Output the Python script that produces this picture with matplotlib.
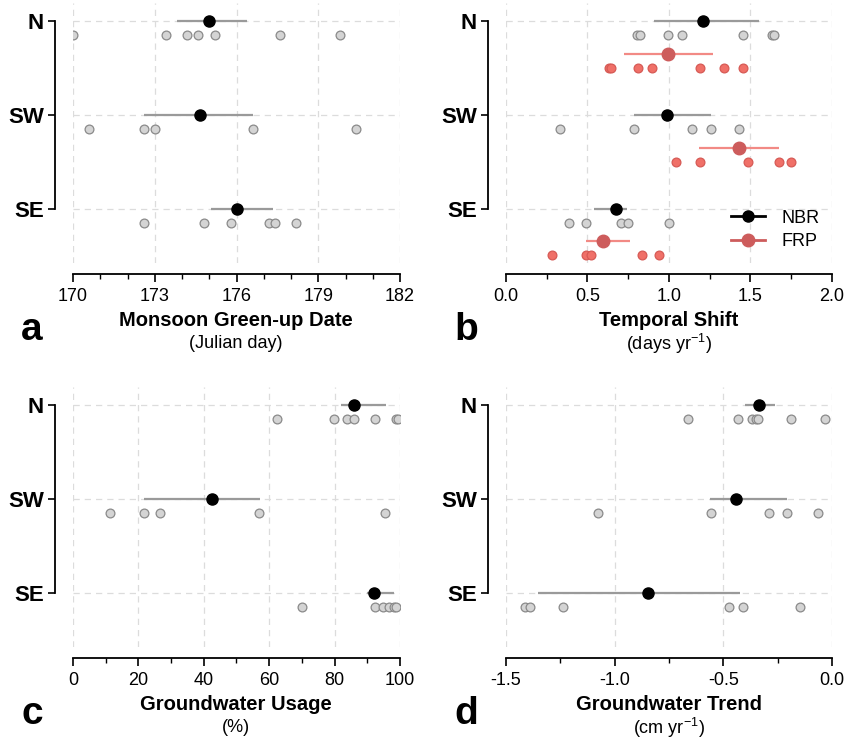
import matplotlib
matplotlib.use("Agg")
import matplotlib.pyplot as plt
from matplotlib.lines import Line2D
from matplotlib.ticker import FixedLocator, FormatStrFormatter

plt.rcParams['font.family'] = ['Liberation Sans', 'DejaVu Sans']
plt.rcParams['mathtext.default'] = 'regular'

regions = ["N", "SW", "SE"]

# Panel a: Monsoon green-up date
a_ticks = [170, 173, 176, 179, 182]
a_minor = [171, 172, 174, 175, 177, 178, 180, 181]
a_mean = [175.0, 174.65, 176.0]
a_lo = [173.8, 172.6, 175.05]
a_hi = [176.4, 176.6, 177.35]
a_pts = [
    [170.0, 173.4, 174.2, 174.6, 175.2, 177.6, 179.8],
    [170.6, 172.6, 173.0, 176.6, 180.4],
    [172.6, 174.8, 175.8, 177.2, 177.4, 178.2],
]

# Panel b: temporal shift (NBR and FRP)
b_ticks = [0.0, 0.5, 1.0, 1.5, 2.0]
b_minor = [0.25, 0.75, 1.25, 1.75]
b_nbr_mean = [1.21, 0.99, 0.675]
b_nbr_lo = [0.905, 0.785, 0.54]
b_nbr_hi = [1.55, 1.26, 0.74]
b_nbr_pts = [
    [0.806, 0.822, 0.992, 1.081, 1.457, 1.629, 1.645],
    [0.331, 0.788, 1.143, 1.259, 1.427],
    [0.386, 0.488, 0.704, 0.747, 1.0],
]
b_frp_mean = [0.996, 1.43, 0.594]
b_frp_lo = [0.724, 1.186, 0.492]
b_frp_hi = [1.268, 1.674, 0.761]
b_frp_pts = [
    [0.632, 0.645, 0.810, 0.898, 1.190, 1.335, 1.457],
    [1.045, 1.190, 1.486, 1.672, 1.751],
    [0.284, 0.488, 0.524, 0.833, 0.937],
]

# Panel c: groundwater usage (%)
c_ticks = [0, 20, 40, 60, 80, 100]
c_minor = [10, 30, 50, 70, 90]
c_mean = [86.0, 42.4, 91.9]
c_lo = [81.9, 21.6, 90.0]
c_hi = [95.8, 57.1, 98.3]
c_pts = [
    [62.3, 79.8, 83.9, 86.0, 92.3, 98.8, 99.5],
    [11.4, 21.6, 26.5, 57.0, 95.5],
    [69.9, 92.5, 94.7, 96.6, 98.1, 98.9],
]

# Panel d: groundwater trend (cm/yr)
d_ticks = [-1.5, -1.0, -0.5, 0.0]
d_minor = [-1.25, -0.75, -0.25]
d_mean = [-0.336, -0.44, -0.845]
d_lo = [-0.40, -0.56, -1.353]
d_hi = [-0.261, -0.209, -0.425]
d_pts = [
    [-0.663, -0.434, -0.370, -0.351, -0.339, -0.189, -0.032],
    [-1.075, -0.557, -0.290, -0.209, -0.064],
    [-1.411, -1.390, -1.238, -0.475, -0.411, -0.146],
]

W, H = 853, 743
fig = plt.figure(figsize=(W / 100, H / 100), dpi=100)


def px_axes(left, top, right, bottom):
    return fig.add_axes([left / W, 1 - bottom / H, (right - left) / W, (bottom - top) / H])


GRAY_PT = '#d4d4d4'
GRAY_EDGE = '#8a8a8a'
GRAY_LINE = '#9a9a9a'
FRP_MEAN = '#cd5c5c'
FRP_PT = '#f07068'
FRP_EDGE = '#d65a55'
FRP_LINE = '#f28a85'


def style(ax, xlim, major, minor, fmt=None):
    ax.set_xlim(*xlim)
    ax.set_ylim(2.58, -0.19)
    ax.yaxis.set_major_locator(FixedLocator(range(len(regions))))
    ax.set_yticklabels(regions)
    ax.xaxis.set_major_locator(FixedLocator(major))
    ax.xaxis.set_minor_locator(FixedLocator(minor))
    if fmt:
        ax.xaxis.set_major_formatter(FormatStrFormatter(fmt))
    for s in ['top', 'right']:
        ax.spines[s].set_visible(False)
    ax.spines['left'].set_position(('outward', 13))
    ax.spines['left'].set_bounds(0, 2)
    ax.spines['bottom'].set_position(('outward', 8))
    ax.spines['left'].set_linewidth(1.3)
    ax.spines['bottom'].set_linewidth(1.3)
    ax.tick_params(axis='x', which='major', length=6, width=1.2, labelsize=13, pad=4)
    ax.tick_params(axis='x', which='minor', length=3.5, width=1.0)
    ax.tick_params(axis='y', length=5, width=1.2, pad=3, labelsize=16)
    ax.grid(True, which='major', axis='both', linestyle=(0, (5, 4)), color='#dcdcdc', linewidth=0.9)
    ax.set_axisbelow(True)


def bold_y(ax):
    for lab in ax.get_yticklabels():
        lab.set_fontweight('bold')
        lab.set_fontsize(16)


def draw_series(ax, mean, lo, hi, pts, off_mean, off_pts, mcolor, lcolor, pcolor, pedge, msize):
    for i in range(len(regions)):
        ax.errorbar([mean[i]], [i + off_mean],
                    xerr=[[mean[i] - lo[i]], [hi[i] - mean[i]]],
                    fmt='o', color=mcolor, ecolor=lcolor, elinewidth=1.6,
                    markersize=msize, capsize=0, zorder=4)
        ax.scatter(pts[i], [i + off_pts] * len(pts[i]), s=40, color=pcolor,
                   edgecolor=pedge, linewidth=0.9, zorder=3)


# Panel a
axa = px_axes(73, 3, 400, 263)
style(axa, (170, 182), a_ticks, a_minor)
draw_series(axa, a_mean, a_lo, a_hi, a_pts, 0, 0.15, 'black', GRAY_LINE, GRAY_PT, GRAY_EDGE, 8)

# Panel b
axb = px_axes(506, 3, 832, 263)
style(axb, (0, 2), b_ticks, b_minor, '%.1f')
draw_series(axb, b_nbr_mean, b_nbr_lo, b_nbr_hi, b_nbr_pts, 0, 0.15, 'black', GRAY_LINE, GRAY_PT, GRAY_EDGE, 8)
draw_series(axb, b_frp_mean, b_frp_lo, b_frp_hi, b_frp_pts, 0.35, 0.5, FRP_MEAN, FRP_LINE, FRP_PT, FRP_EDGE, 9)
handles = [Line2D([], [], color='black', marker='o', markersize=8, linewidth=2),
           Line2D([], [], color=FRP_MEAN, marker='o', markersize=9, linewidth=2)]
axb.legend(handles, ['NBR', 'FRP'], loc='upper left', bbox_to_anchor=(0.69, 0.205),
           frameon=False, fontsize=13, handlelength=1.9, handletextpad=0.9,
           labelspacing=0.35, borderpad=0, borderaxespad=0)

# Panel c
axc = px_axes(73, 387, 400, 647)
style(axc, (0, 100), c_ticks, c_minor)
draw_series(axc, c_mean, c_lo, c_hi, c_pts, 0, 0.15, 'black', GRAY_LINE, GRAY_PT, GRAY_EDGE, 8)

# Panel d
axd = px_axes(506, 387, 832, 647)
style(axd, (-1.5, 0), d_ticks, d_minor, '%.1f')
draw_series(axd, d_mean, d_lo, d_hi, d_pts, 0, 0.15, 'black', GRAY_LINE, GRAY_PT, GRAY_EDGE, 8)

for ax in (axa, axb, axc, axd):
    bold_y(ax)


def ftext(x, y, s, **kw):
    fig.text(x / W, 1 - y / H, s, ha='center', va='center', **kw)


ftext(236, 320, 'Monsoon Green-up Date', fontsize=14.5, fontweight='bold')
ftext(236, 344, '(Julian day)', fontsize=13)
ftext(669, 320, 'Temporal Shift', fontsize=14.5, fontweight='bold')
ftext(669, 344, '(days yr$^{-1}$)', fontsize=13)
ftext(236, 704, 'Groundwater Usage', fontsize=14.5, fontweight='bold')
ftext(236, 728, '(%)', fontsize=13)
ftext(669, 704, 'Groundwater Trend', fontsize=14.5, fontweight='bold')
ftext(669, 728, '(cm yr$^{-1}$)', fontsize=13)

ftext(32, 330, 'a', fontsize=28, fontweight='bold')
ftext(466, 330, 'b', fontsize=28, fontweight='bold')
ftext(32, 714, 'c', fontsize=28, fontweight='bold')
ftext(466, 714, 'd', fontsize=28, fontweight='bold')

fig.savefig('out.png', dpi=100)
